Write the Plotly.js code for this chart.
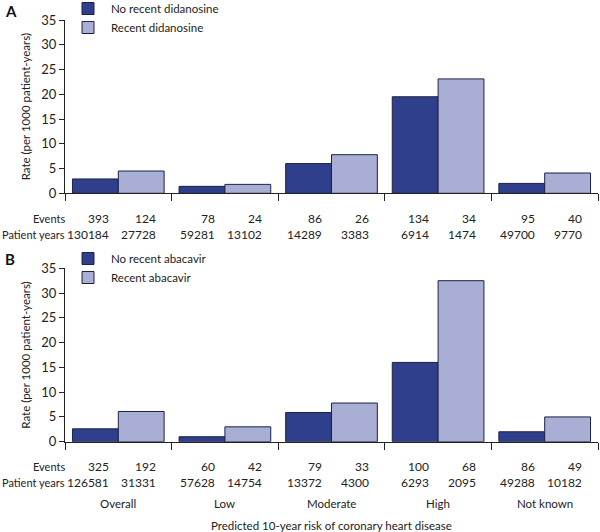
<!DOCTYPE html>
<html>
<head>
<meta charset="utf-8">
<script src="https://cdn.plot.ly/plotly-3.0.1.min.js"></script>
<style>html,body{margin:0;padding:0;background:#fff;}#chart{width:600px;height:532px;}</style>
</head>
<body>
<div id="chart"></div>
<script>
// ---- data ----
var categories = ["Overall", "Low", "Moderate", "High", "Not known"];

var seriesA_names = ["No recent didanosine", "Recent didanosine"];
var ratesA_no = [2.9, 1.4, 6.0, 19.5, 2.0];
var ratesA_recent = [4.5, 1.8, 7.8, 23.1, 4.1];
var eventsA_no = [393, 78, 86, 134, 95];
var eventsA_recent = [124, 24, 26, 34, 40];
var pyA_no = ["130184", "59281", "14289", "6914", "49700"];
var pyA_recent = ["27728", "13102", "3383", "1474", "9770"];

var seriesB_names = ["No recent abacavir", "Recent abacavir"];
var ratesB_no = [2.6, 1.0, 5.9, 16.0, 2.0];
var ratesB_recent = [6.1, 3.0, 7.8, 32.5, 5.0];
var eventsB_no = [325, 60, 79, 100, 86];
var eventsB_recent = [192, 42, 33, 68, 49];
var pyB_no = ["126581", "57628", "13372", "6293", "49288"];
var pyB_recent = ["31331", "14754", "4300", "2095", "10182"];

var yTitle = "Rate (per 1000 patient-years)";
var xTitle = "Predicted 10-year risk of coronary heart disease";
var rowLabels = ["Events", "Patient years"];

// ---- style ----
var FONT = "Lato, 'Open Sans', sans-serif";
var DARK = "#2f3f8b";
var LIGHT = "#a9aed4";
var EDGE = "#1c2244";
var H = 532;
function py(px){ return 1 - px / H; }

function barTrace(name, vals, color, xa, ya, leg){
  return {type: "bar", name: name, x: categories, y: vals, xaxis: xa, yaxis: ya, legend: leg,
    marker: {color: color, line: {color: EDGE, width: 1}}, hoverinfo: "skip"};
}

var data = [
  barTrace(seriesA_names[0], ratesA_no, DARK, "x", "y", "legend"),
  barTrace(seriesA_names[1], ratesA_recent, LIGHT, "x", "y", "legend"),
  barTrace(seriesB_names[0], ratesB_no, DARK, "x2", "y2", "legend2"),
  barTrace(seriesB_names[1], ratesB_recent, LIGHT, "x2", "y2", "legend2")
];

var wf = {family: FONT, size: 11.5, color: "#222"};   // word labels
var rf = {family: FONT, size: 11, color: "#222"};     // row labels
var nf = {family: FONT, size: 12, color: "#222"};     // numbers
var annotations = [];
function addRows(xref, yEv, yPy, evNo, evRe, pyNo, pyRe){
  annotations.push({xref: "paper", yref: "paper", x: 2/533, y: yEv, xanchor: "right", yanchor: "middle", text: rowLabels[0], showarrow: false, font: rf});
  annotations.push({xref: "paper", yref: "paper", x: 2/533, y: yPy, xanchor: "right", yanchor: "middle", text: rowLabels[1], showarrow: false, font: rf});
  for (var i = 0; i < categories.length; i++){
    annotations.push({xref: xref, yref: "paper", x: i - 0.07, y: yEv, xanchor: "right", yanchor: "middle", text: String(evNo[i]), showarrow: false, font: nf});
    annotations.push({xref: xref, yref: "paper", x: i + 0.37, y: yEv, xanchor: "right", yanchor: "middle", text: String(evRe[i]), showarrow: false, font: nf});
    annotations.push({xref: xref, yref: "paper", x: i - 0.07, y: yPy, xanchor: "right", yanchor: "middle", text: pyNo[i], showarrow: false, font: nf});
    annotations.push({xref: xref, yref: "paper", x: i + 0.37, y: yPy, xanchor: "right", yanchor: "middle", text: pyRe[i], showarrow: false, font: nf});
  }
}
addRows("x", py(218), py(234), eventsA_no, eventsA_recent, pyA_no, pyA_recent);
addRows("x2", py(466.5), py(482.5), eventsB_no, eventsB_recent, pyB_no, pyB_recent);
for (var i = 0; i < categories.length; i++){
  annotations.push({xref: "x2", yref: "paper", x: categories[i], y: py(503), xanchor: "center", yanchor: "middle", text: categories[i], showarrow: false, font: wf});
}
annotations.push({xref: "paper", yref: "paper", x: 0.5, y: py(525), xanchor: "center", yanchor: "middle", text: xTitle, showarrow: false, font: wf});
annotations.push({xref: "paper", yref: "paper", x: -62/533, y: py(11), xanchor: "left", yanchor: "middle", text: "<b>A</b>", showarrow: false, font: {family: FONT, size: 15, color: "#111"}});
annotations.push({xref: "paper", yref: "paper", x: -62/533, y: py(259), xanchor: "left", yanchor: "middle", text: "<b>B</b>", showarrow: false, font: {family: FONT, size: 15, color: "#111"}});

function xAxis(anchor){
  return {anchor: anchor, domain: [0, 1], type: "category", range: [-0.5, 4.5], showline: true, linecolor: "#222", linewidth: 1,
    ticks: "outside", tickson: "boundaries", ticklen: 7, tickcolor: "#222", showticklabels: false, showgrid: false, zeroline: false, fixedrange: true};
}
function yAxis(anchor, dom){
  return {anchor: anchor, domain: dom, range: [0, 35], dtick: 5, tick0: 0, showline: true, linecolor: "#222", linewidth: 1,
    ticks: "outside", ticklen: 5, tickcolor: "#222", showgrid: false, zeroline: false, tickfont: {family: FONT, size: 13, color: "#222"},
    title: {text: yTitle, font: {family: FONT, size: 11.5, color: "#222"}, standoff: 8}, fixedrange: true};
}

var legendBase = {xanchor: "left", yanchor: "top", font: {family: FONT, size: 11.5, color: "#222"}, bgcolor: "rgba(0,0,0,0)", tracegroupgap: 0, itemwidth: 36};

var layout = {
  width: 600, height: 532,
  margin: {l: 65, r: 2, t: 0, b: 0, autoexpand: false},
  paper_bgcolor: "#fff", plot_bgcolor: "#fff",
  font: {family: FONT, size: 12, color: "#222"},
  barmode: "group", bargap: 0.14, bargroupgap: 0,
  showlegend: true,
  legend: Object.assign({}, legendBase, {x: 0, y: py(-6)}),
  legend2: Object.assign({}, legendBase, {x: 0, y: py(244)}),
  xaxis: xAxis("y"),
  yaxis: yAxis("x", [py(193.3), py(20)]),
  xaxis2: xAxis("y2"),
  yaxis2: yAxis("x2", [py(441.7), py(268.3)]),
  annotations: annotations
};

Plotly.newPlot("chart", data, layout, {staticPlot: true, displayModeBar: false});
</script>
</body>
</html>
